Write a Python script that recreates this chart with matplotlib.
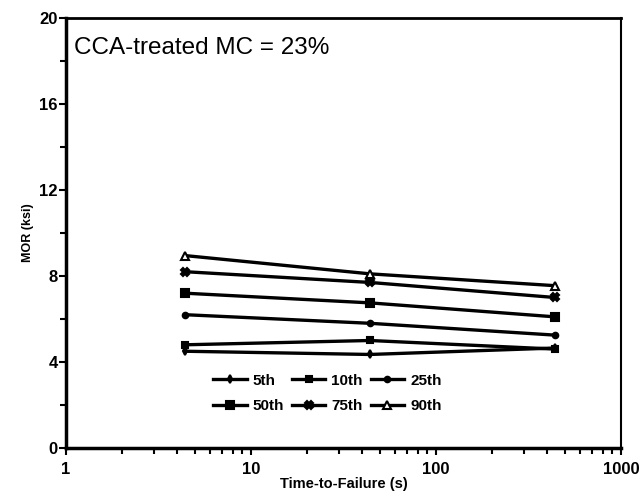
import numpy as np
import matplotlib
matplotlib.use("Agg")
import matplotlib.pyplot as plt
from matplotlib.ticker import FixedLocator, FuncFormatter, LogLocator, NullFormatter

plt.rcParams['font.family'] = ['Liberation Sans', 'DejaVu Sans']

# time-to-failure levels (s) and MOR percentiles (ksi)
time_s = [4.4, 44, 440]
labels = ['5th', '10th', '25th', '50th', '75th', '90th']
mor_5th = [4.5, 4.35, 4.65]
mor_10th = [4.8, 5.0, 4.6]
mor_25th = [6.2, 5.8, 5.25]
mor_50th = [7.2, 6.75, 6.1]
mor_75th = [8.2, 7.7, 7.0]
mor_90th = [8.95, 8.1, 7.55]

series = [mor_5th, mor_10th, mor_25th, mor_50th, mor_75th, mor_90th]
markers = ['d', 's', 'o', 's', 'X', '^']
msizes = [4, 5, 4, 6, 6, 6]
mfaces = ['k', 'k', 'k', 'k', 'k', 'white']

fig = plt.figure(figsize=(6.44, 4.96), dpi=100)
ax = fig.add_axes([0.1025, 0.0968, 0.8615, 0.8669])

handles = []
for vals, lab, m, ms, mf in zip(series, labels, markers, msizes, mfaces):
    h, = ax.plot(time_s, vals, color='k', lw=2.4, marker=m, ms=ms,
                 markerfacecolor=mf, markeredgecolor='k', mew=1.5, label=lab)
    handles.append(h)

ax.set_xscale('log')
ax.set_xlim(1, 1000)
ax.set_ylim(0, 20)

ax.xaxis.set_major_locator(FixedLocator([1, 10, 100, 1000]))
ax.xaxis.set_major_formatter(FuncFormatter(lambda v, p: f"{int(round(v))}"))
ax.xaxis.set_minor_locator(LogLocator(base=10, subs=np.arange(2, 10)))
ax.xaxis.set_minor_formatter(NullFormatter())
ax.yaxis.set_major_locator(FixedLocator([0, 4, 8, 12, 16, 20]))
ax.yaxis.set_minor_locator(FixedLocator([2, 6, 10, 14, 18]))

ax.tick_params(axis='both', which='major', direction='out', length=5, width=1.5,
               labelsize=12)
ax.tick_params(axis='x', which='major', pad=5)
ax.tick_params(axis='y', which='major', pad=1)
ax.tick_params(axis='both', which='minor', direction='out', length=4, width=1.5)
for t in ax.get_xticklabels() + ax.get_yticklabels():
    t.set_fontweight('bold')

ax.spines['left'].set_linewidth(2.5)
ax.spines['bottom'].set_linewidth(2.5)
ax.spines['top'].set_linewidth(2.0)
ax.spines['right'].set_linewidth(1.5)

ax.set_xlabel('Time-to-Failure (s)', fontsize=10.5, fontweight='bold', labelpad=0)
ax.set_ylabel('MOR (ksi)', fontsize=9, fontweight='bold', labelpad=4)

ax.text(0.015, 0.955, 'CCA-treated MC = 23%', transform=ax.transAxes,
        fontsize=17.5, va='top', ha='left')

# legend filled row by row: 5th 10th 25th / 50th 75th 90th
order = [0, 3, 1, 4, 2, 5]
ax.legend([handles[i] for i in order], [labels[i] for i in order],
          loc='upper left', bbox_to_anchor=(0.24, 0.205), ncol=3, frameon=False,
          prop={'weight': 'bold', 'size': 11}, handlelength=2.2,
          columnspacing=0.5, handletextpad=0.4, labelspacing=0.75)

fig.savefig('out.png', dpi=100)
